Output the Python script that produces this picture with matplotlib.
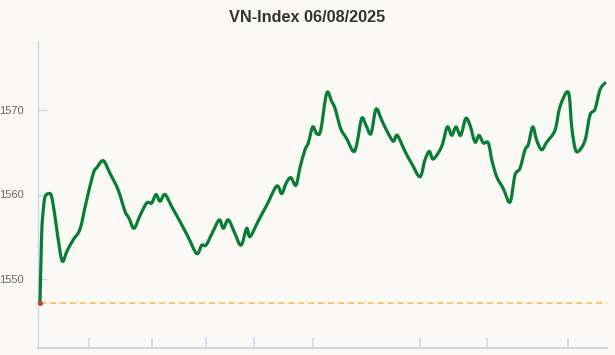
import matplotlib
matplotlib.use("Agg")
import matplotlib.pyplot as plt
from matplotlib.path import Path
from matplotlib.patches import PathPatch

plt.rcParams['font.family'] = ['Liberation Sans', 'DejaVu Sans']

title = "VN-Index 06/08/2025"
ref_value = 1547.1

# session position (arbitrary units along the trading day) and index level
pos = [0, 1.7, 3.3, 5, 8.3, 11.5, 15, 18.3, 22.3, 27, 33, 40, 46, 53.3, 57, 63.3,
       70, 78.3, 85, 89, 94, 100, 106.7, 111.7, 116, 120, 125, 132, 140, 148,
       156.7, 161.7, 166, 172.5, 179.3, 183.3, 188.3, 194.5, 201, 206.7, 210,
       218, 227, 236.7, 241.7, 246, 250.7, 256, 260, 265, 268.3, 272.7, 276.7,
       280.7, 286.7, 291.7, 295, 300.7, 306.7, 313.3, 316.7, 321.7, 326, 331,
       336, 341.7, 347, 353.3, 357.3, 365, 372, 380, 385, 389.3, 393.3, 401.7,
       407.3, 411.7, 416, 420.7, 425.7, 430, 435, 439, 443.3, 448.3, 452, 456.7,
       463.3, 470, 475, 480, 485, 488.3, 492.7, 496.7, 501.7, 506.7, 515, 520,
       528.3, 531.7, 535, 538.3, 545, 550, 555, 560, 565]
index = [1547.1, 1555.4, 1558.2, 1559.7, 1560.1, 1559.8, 1557.4, 1554.6, 1552.1,
         1553.3, 1554.6, 1555.9, 1559.0, 1562.5, 1563.2, 1564.0, 1562.5, 1560.5,
         1558.0, 1557.2, 1556.0, 1557.5, 1559.0, 1559.0, 1560.0, 1559.2, 1560.0,
         1558.5, 1556.8, 1555.0, 1553.0, 1554.0, 1554.0, 1555.5, 1557.0, 1556.0,
         1557.0, 1555.5, 1554.0, 1556.0, 1555.0, 1556.8, 1558.8, 1561.0, 1560.1,
         1561.3, 1562.0, 1561.1, 1563.2, 1565.3, 1566.1, 1568.0, 1567.2, 1567.6,
         1572.0, 1571.0, 1570.2, 1567.8, 1566.6, 1565.1, 1565.9, 1569.0, 1568.2,
         1567.2, 1570.1, 1568.8, 1567.5, 1566.3, 1567.0, 1565.1, 1563.6, 1562.1,
         1564.1, 1565.1, 1564.2, 1565.7, 1568.0, 1567.0, 1568.0, 1567.0, 1569.0,
         1568.2, 1566.2, 1567.0, 1566.1, 1566.1, 1564.0, 1562.1, 1560.7, 1559.1,
         1562.3, 1563.1, 1565.3, 1565.9, 1568.0, 1566.4, 1565.3, 1566.2, 1567.6,
         1570.4, 1572.1, 1568.0, 1565.5, 1565.1, 1566.4, 1569.4, 1570.1, 1572.4,
         1573.2]

x_ticks = [48.7, 111.7, 165.7, 214.3, 272.7, 380, 447.3, 528.3]
y_ticks = [1550, 1560, 1570]


def spline_path(xs, ys):
    """Catmull-Rom style bezier path through the points (like a spline series)"""
    verts = [(xs[0], ys[0])]
    codes = [Path.MOVETO]
    n = len(xs)
    for i in range(n - 1):
        x0, y0 = (xs[i - 1], ys[i - 1]) if i > 0 else (xs[i], ys[i])
        x1, y1 = xs[i], ys[i]
        x2, y2 = xs[i + 1], ys[i + 1]
        x3, y3 = (xs[i + 2], ys[i + 2]) if i + 2 < n else (x2, y2)
        c1 = (x1 + (x2 - x0) / 6, y1 + (y2 - y0) / 6)
        c2 = (x2 - (x3 - x1) / 6, y2 - (y3 - y1) / 6)
        verts += [c1, c2, (x2, y2)]
        codes += [Path.CURVE4] * 3
    return Path(verts, codes)


bg = '#faf9f6'
axis_col = '#ccd6eb'

fig = plt.figure(figsize=(6.15, 3.55), dpi=100, facecolor=bg)
ax = fig.add_axes([38 / 615, 7 / 355, 569 / 615, 307 / 355], facecolor=bg)

ax.axhline(ref_value, xmin=2 / 569, color='#ffb74d', lw=1.1, ls=(0, (4, 2.5)), zorder=1)
ax.add_patch(PathPatch(spline_path(pos, index), fill=False, ec='#0a7d34', lw=2.3,
                       capstyle='round', joinstyle='round', zorder=3))
ax.plot(pos[0], index[0], 'o', color='#d9352b', ms=2.5, zorder=4)

ax.set_xlim(-2, 567)
ax.set_ylim(1541.83, 1578.17)

ax.set_xticks(x_ticks)
ax.set_xticklabels([])
ax.set_yticks(y_ticks)
ax.set_yticklabels([str(v) for v in y_ticks])
ax.tick_params(axis='x', direction='in', length=7, width=1.2, color=axis_col)
ax.tick_params(axis='y', direction='in', length=6.3, width=1, color=axis_col,
               labelsize=8, labelcolor='#666666', pad=10)
for lab in ax.get_yticklabels():
    lab.set_horizontalalignment('right')

for side in ['top', 'right']:
    ax.spines[side].set_visible(False)
ax.spines['left'].set_color(axis_col)
ax.spines['left'].set_linewidth(1)
ax.spines['bottom'].set_color(axis_col)
ax.spines['bottom'].set_linewidth(1.5)

fig.text(0.5, 1 - 17 / 355, title, ha='center', va='center',
         fontsize=11.7, fontweight='bold', color='#333333')

fig.savefig('out.png', dpi=100, facecolor=bg)
